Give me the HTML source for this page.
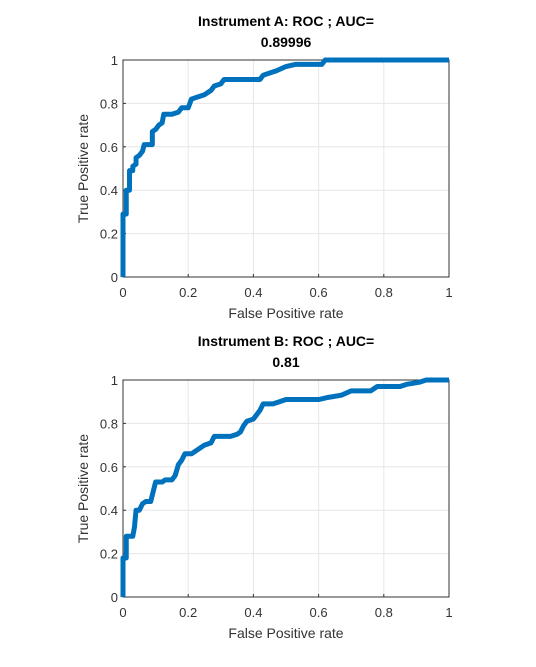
<!DOCTYPE html>
<html><head><meta charset="utf-8"><style>
body{margin:0;background:#fff;width:536px;height:662px;overflow:hidden}
svg text{font-family:"Liberation Sans",Arial,sans-serif}
</style></head><body>
<svg id="c" width="536" height="662"></svg>
<script>
const fprA=[0,0,0.01,0.01,0.02,0.02,0.03,0.03,0.04,0.04,0.05,0.06,0.065,0.09,0.09,0.10,0.11,0.12,0.125,0.15,0.17,0.18,0.20,0.21,0.23,0.25,0.27,0.28,0.30,0.31,0.42,0.43,0.45,0.47,0.50,0.53,0.61,0.62,1];
const tprA=[0,0.29,0.29,0.40,0.40,0.49,0.49,0.51,0.52,0.55,0.56,0.58,0.61,0.61,0.67,0.68,0.70,0.71,0.75,0.75,0.76,0.78,0.78,0.82,0.83,0.84,0.86,0.88,0.89,0.91,0.91,0.93,0.94,0.95,0.97,0.98,0.98,1,1];
const fprB=[0,0,0.01,0.01,0.03,0.035,0.04,0.05,0.06,0.07,0.085,0.09,0.10,0.12,0.13,0.15,0.16,0.17,0.18,0.19,0.21,0.23,0.25,0.27,0.28,0.33,0.35,0.36,0.37,0.38,0.40,0.41,0.42,0.43,0.46,0.48,0.50,0.60,0.63,0.67,0.70,0.76,0.78,0.85,0.87,0.91,0.93,1];
const tprB=[0,0.18,0.18,0.28,0.28,0.32,0.40,0.40,0.43,0.44,0.44,0.47,0.53,0.53,0.54,0.54,0.56,0.61,0.63,0.66,0.66,0.68,0.70,0.71,0.74,0.74,0.75,0.76,0.79,0.81,0.82,0.84,0.86,0.89,0.89,0.90,0.91,0.91,0.92,0.93,0.95,0.95,0.97,0.97,0.98,0.99,1,1];
const ticks=[0,0.2,0.4,0.6,0.8,1];
const tickLabels=["0","0.2","0.4","0.6","0.8","1"];
const titlesL1=["Instrument A: ROC ; AUC=","Instrument B: ROC ; AUC="];
const titlesL2=["0.89996","0.81"];
const NS="http://www.w3.org/2000/svg";
const svg=document.getElementById('c');
function mk(t,a,p){const e=document.createElementNS(NS,t);for(const k in a)e.setAttribute(k,a[k]);(p||svg).appendChild(e);return e;}
function panel(idx,top,fpr,tpr){
  const L=123,R=449,T=top,B=top+217;
  const g=mk('g',{});
  
  
  const sx=v=>L+v*(R-L), sy=v=>B-v*(B-T);
  ticks.forEach((t,i)=>{
    const gx=mk('line',{x1:sx(t),x2:sx(t),y1:T,y2:B,stroke:'#e6e6e6','stroke-width':1},g);
    
    const gy=mk('line',{x1:L,x2:R,y1:sy(t),y2:sy(t),stroke:'#e6e6e6','stroke-width':1},g);
    
    const xt=mk('text',{x:sx(t),y:B+20,'text-anchor':'middle','font-size':13,fill:'#333'},g);xt.textContent=tickLabels[i];
    
    const yt=mk('text',{x:L-5,y:sy(t)+5,'text-anchor':'end','font-size':13,fill:'#333'},g);yt.textContent=tickLabels[i];
    
    mk('line',{x1:sx(t),x2:sx(t),y1:B,y2:B-3,stroke:'#333'},g);
    mk('line',{x1:L,x2:L+3,y1:sy(t),y2:sy(t),stroke:'#333'},g);
  });
  const box=mk('rect',{x:L,y:T,width:R-L,height:B-T,fill:'none',stroke:'#333','stroke-width':1},g);
  
  const pts=fpr.map((f,i)=>sx(f)+','+sy(tpr[i])).join(' ');
  const pl=mk('polyline',{points:pts,fill:'none',stroke:'#0072BD','stroke-width':5,'stroke-linejoin':'round'},g);
  
  const t1=mk('text',{x:286,y:T-34,'text-anchor':'middle','font-size':14,'font-weight':'bold',fill:'#000'},g);t1.textContent=titlesL1[idx];
  
  const t2=mk('text',{x:286,y:T-13,'text-anchor':'middle','font-size':14,'font-weight':'bold',fill:'#000'},g);t2.textContent=titlesL2[idx];
  
  const xl=mk('text',{x:286,y:B+41,'text-anchor':'middle','font-size':14,fill:'#333'},g);xl.textContent='False Positive rate';
  
  const yl=mk('text',{x:0,y:0,'text-anchor':'middle','font-size':14,fill:'#333',transform:`translate(88,${(T+B)/2}) rotate(-90)`},g);yl.textContent='True Positive rate';
  
}
panel(0,60,fprA,tprA);
panel(1,380,fprB,tprB);
</script>
</body></html>
